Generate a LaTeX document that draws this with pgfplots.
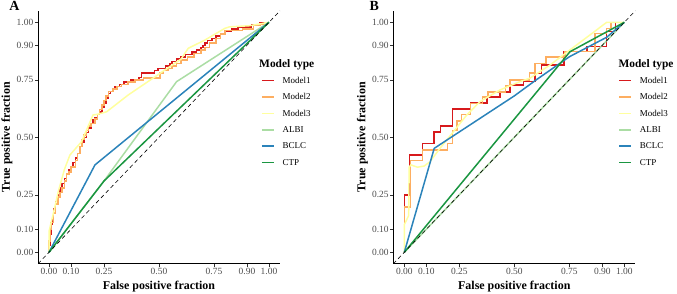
\documentclass[border=0pt]{standalone}
\usepackage{fontspec}
\setmainfont{Liberation Serif}
\usepackage{pgfplots}
\pgfplotsset{compat=1.18}
\definecolor{cMa}{HTML}{D7191C}
\definecolor{cMb}{HTML}{FDAE61}
\definecolor{cMc}{HTML}{FFFF9E}
\definecolor{cALBI}{HTML}{ABDDA4}
\definecolor{cBCLC}{HTML}{2B83BA}
\definecolor{cCTP}{HTML}{1A9641}
\definecolor{tickgray}{HTML}{4D4D4D}
\pgfplotsset{
 rocax/.style={
  scale only axis, width=242bp, height=253bp,
  xmin=-0.05,xmax=1.05,ymin=-0.05,ymax=1.05,
  axis lines=left, axis line style={-, line width=0.8bp, black},
  xtick={0,0.1,0.25,0.5,0.75,0.9,1}, xticklabels={0.00,0.10,0.25,0.50,0.75,0.90,1.00},
  ytick={0,0.1,0.25,0.5,0.75,0.9,1}, yticklabels={0.00,0.10,0.25,0.50,0.75,0.90,1.00},
  tick align=outside, major tick length=3bp, tick style={line width=0.5bp, color=black!80},
  ticklabel style={font=\fontsize{9.5}{11}\selectfont, text=tickgray},
  xticklabel style={inner sep=1.5bp},
  yticklabel style={inner sep=1.5bp},
  xlabel={False positive fraction}, ylabel={True positive fraction},
  label style={font=\fontsize{12}{14}\selectfont\bfseries},
  xlabel style={at={(axis description cs:0.5,-0.0905)}, anchor=center},
  ylabel style={at={(axis description cs:-0.128,0.5)}, anchor=center},
  every axis plot/.append style={line width=1.5bp},
  legend image code/.code={\draw[##1, line width=1.6bp] (0bp,2.6bp) -- (12.3bp,2.6bp);},
  legend cell align=left,
  legend style={draw=none, fill=none, inner sep=0pt, outer sep=0pt, row sep=10.2bp,
    font=\fontsize{9}{10}\selectfont, anchor=north west,
    /tikz/every odd column/.append style={column sep=7.7bp},
    nodes={inner sep=0pt, text height=6.2bp, text depth=0bp, anchor=base west}},
 }
}
\begin{document}
\begin{tikzpicture}
\path[use as bounding box] (0,0) rectangle (677bp,294bp);
% ---------------- Panel A ----------------
\begin{axis}[rocax, at={(38bp,30.2bp)}, anchor=south west,
  legend style={at={(axis description cs:0.9215,0.738)}}]
\addplot[cMa] coordinates {(0,0)(0,0.03)(0.005,0.03)(0.005,0.08)(0.01,0.08)(0.01,0.12)(0.015,0.12)(0.015,0.16)(0.02,0.16)(0.02,0.19)(0.03,0.19)(0.03,0.22)(0.04,0.22)(0.04,0.25)(0.05,0.25)(0.05,0.28)(0.06,0.28)(0.06,0.30)(0.07,0.30)(0.07,0.32)(0.08,0.32)(0.08,0.34)(0.09,0.34)(0.09,0.36)(0.10,0.36)(0.10,0.37)(0.11,0.37)(0.11,0.39)(0.12,0.39)(0.12,0.41)(0.13,0.41)(0.13,0.43)(0.14,0.43)(0.14,0.46)(0.15,0.46)(0.15,0.48)(0.16,0.48)(0.16,0.50)(0.17,0.50)(0.17,0.52)(0.18,0.52)(0.18,0.54)(0.19,0.54)(0.19,0.56)(0.20,0.56)(0.20,0.575)(0.21,0.575)(0.21,0.585)(0.22,0.585)(0.22,0.60)(0.23,0.60)(0.23,0.61)(0.24,0.61)(0.24,0.63)(0.25,0.63)(0.25,0.65)(0.26,0.65)(0.26,0.67)(0.27,0.67)(0.27,0.69)(0.28,0.69)(0.28,0.70)(0.29,0.70)(0.29,0.71)(0.30,0.71)(0.30,0.72)(0.32,0.72)(0.32,0.73)(0.34,0.73)(0.34,0.74)(0.37,0.74)(0.37,0.75)(0.41,0.75)(0.41,0.76)(0.42,0.76)(0.42,0.78)(0.48,0.78)(0.48,0.79)(0.495,0.79)(0.495,0.80)(0.53,0.80)(0.53,0.81)(0.55,0.81)(0.55,0.82)(0.56,0.82)(0.56,0.83)(0.58,0.83)(0.58,0.84)(0.60,0.84)(0.60,0.85)(0.62,0.85)(0.62,0.86)(0.65,0.86)(0.65,0.87)(0.67,0.87)(0.67,0.88)(0.69,0.88)(0.69,0.89)(0.70,0.89)(0.70,0.90)(0.71,0.90)(0.71,0.91)(0.72,0.91)(0.72,0.92)(0.74,0.92)(0.74,0.93)(0.76,0.93)(0.76,0.94)(0.78,0.94)(0.78,0.95)(0.80,0.95)(0.80,0.96)(0.83,0.96)(0.83,0.97)(0.86,0.97)(0.86,0.98)(0.92,0.98)(0.92,0.99)(0.96,0.99)(0.96,1.0)(1,1)};
\addlegendentry{Model1}
\addplot[cMb] coordinates {(0,0)(0,0.05)(0.005,0.05)(0.005,0.10)(0.01,0.10)(0.01,0.13)(0.02,0.13)(0.02,0.17)(0.03,0.17)(0.03,0.21)(0.04,0.21)(0.04,0.24)(0.05,0.24)(0.05,0.26)(0.06,0.26)(0.06,0.28)(0.07,0.28)(0.07,0.31)(0.08,0.31)(0.08,0.34)(0.09,0.34)(0.09,0.35)(0.10,0.35)(0.10,0.37)(0.12,0.37)(0.12,0.40)(0.13,0.40)(0.13,0.43)(0.14,0.43)(0.14,0.46)(0.15,0.46)(0.15,0.49)(0.16,0.49)(0.16,0.51)(0.17,0.51)(0.17,0.53)(0.18,0.53)(0.18,0.55)(0.19,0.55)(0.19,0.56)(0.21,0.56)(0.21,0.58)(0.22,0.58)(0.22,0.60)(0.23,0.60)(0.23,0.62)(0.24,0.62)(0.24,0.64)(0.25,0.64)(0.25,0.66)(0.26,0.66)(0.26,0.68)(0.27,0.68)(0.27,0.70)(0.29,0.70)(0.29,0.71)(0.31,0.71)(0.31,0.72)(0.33,0.72)(0.33,0.73)(0.36,0.73)(0.36,0.74)(0.39,0.74)(0.39,0.75)(0.43,0.75)(0.43,0.757)(0.505,0.757)(0.505,0.78)(0.52,0.78)(0.52,0.79)(0.54,0.79)(0.54,0.80)(0.56,0.80)(0.56,0.81)(0.58,0.81)(0.58,0.82)(0.60,0.82)(0.60,0.835)(0.63,0.835)(0.63,0.85)(0.66,0.85)(0.66,0.865)(0.69,0.865)(0.69,0.88)(0.71,0.88)(0.71,0.89)(0.73,0.89)(0.73,0.91)(0.76,0.91)(0.76,0.93)(0.78,0.93)(0.78,0.95)(0.80,0.95)(0.80,0.965)(0.88,0.965)(0.88,0.97)(0.93,0.97)(0.93,0.985)(0.96,0.985)(0.96,0.99)(0.98,0.99)(0.98,1)(1,1)};
\addlegendentry{Model2}
\addplot[cMc] coordinates {(0,0)(0,0.09)(0.02,0.17)(0.042,0.263)(0.07,0.36)(0.095,0.423)(0.148,0.481)(0.2,0.597)(0.22,0.60)(0.262,0.611)(0.36,0.684)(0.482,0.763)(0.527,0.793)(0.6,0.84)(0.633,0.887)(0.709,0.923)(0.8,0.974)(0.82,0.98)(0.91,0.985)(1,1)};
\addlegendentry{Model3}
\addplot[cALBI] coordinates {(0,0)(0.25,0.31)(0.58,0.742)(1,1)};
\addlegendentry{ALBI}
\addplot[cBCLC] coordinates {(0,0)(0.209,0.38)(1,1)};
\addlegendentry{BCLC}
\addplot[cCTP] coordinates {(0,0)(0.25,0.31)(1,1)};
\addlegendentry{CTP}
\addplot[black, line width=0.6bp, dash pattern=on 4bp off 3bp, forget plot] coordinates {(-0.05,-0.05)(1.05,1.05)};
\end{axis}
% ---------------- Panel B ----------------
\begin{axis}[rocax, at={(393.3bp,30.2bp)}, anchor=south west,
  legend style={at={(axis description cs:0.93,0.738)}}]
\addplot[cMa] coordinates {(0,0)(0,0.25)(0.023,0.25)(0.023,0.423)(0.083,0.423)(0.083,0.474)(0.136,0.474)(0.136,0.524)(0.165,0.524)(0.165,0.55)(0.218,0.55)(0.218,0.623)(0.30,0.623)(0.30,0.65)(0.377,0.65)(0.377,0.675)(0.435,0.675)(0.435,0.698)(0.48,0.698)(0.48,0.727)(0.541,0.727)(0.541,0.742)(0.594,0.742)(0.594,0.778)(0.624,0.778)(0.624,0.814)(0.726,0.814)(0.726,0.872)(0.83,0.872)(0.83,0.894)(0.92,0.894)(0.92,0.96)(0.96,0.96)(0.96,1)(1,1)};
\addlegendentry{Model1}
\addplot[cMb] coordinates {(0,0)(0,0.198)(0.029,0.198)(0.029,0.40)(0.083,0.40)(0.083,0.445)(0.196,0.445)(0.196,0.474)(0.218,0.474)(0.218,0.53)(0.24,0.53)(0.24,0.57)(0.26,0.57)(0.26,0.60)(0.30,0.60)(0.30,0.648)(0.355,0.648)(0.355,0.675)(0.38,0.675)(0.38,0.698)(0.46,0.698)(0.46,0.724)(0.48,0.724)(0.48,0.749)(0.57,0.749)(0.57,0.78)(0.594,0.78)(0.594,0.82)(0.644,0.82)(0.644,0.85)(0.73,0.85)(0.73,0.872)(0.867,0.872)(0.867,0.952)(0.92,0.952)(0.92,0.974)(0.94,0.974)(0.94,1)(1,1)};
\addlegendentry{Model2}
\addplot[cMc] coordinates {(0,0)(0,0.12)(0.02,0.16)(0.022,0.37)(0.03,0.38)(0.06,0.37)(0.09,0.375)(0.117,0.394)(0.162,0.452)(0.223,0.524)(0.284,0.597)(0.344,0.655)(0.435,0.706)(0.526,0.742)(0.571,0.757)(0.662,0.814)(0.753,0.88)(0.844,0.945)(0.92,1.0)(1,1)};
\addlegendentry{Model3}
\addplot[cALBI] coordinates {(0,0)(1,1)};
\addlegendentry{ALBI}
\addplot[cBCLC] coordinates {(0,0)(0.136,0.452)(0.5,0.68)(0.6,0.75)(0.75,0.85)(0.92,0.935)(1,1)};
\addlegendentry{BCLC}
\addplot[cCTP] coordinates {(0,0)(0.753,0.872)(1,1)};
\addlegendentry{CTP}
\addplot[black, line width=0.6bp, dash pattern=on 4bp off 3bp, forget plot] coordinates {(-0.05,-0.05)(1.05,1.05)};
\end{axis}
% titles
\node[anchor=west, inner sep=0pt, font=\fontsize{11.5}{13}\selectfont\bfseries] at (259bp,229bp) {Model type};
\node[anchor=west, inner sep=0pt, font=\fontsize{11.5}{13}\selectfont\bfseries] at (618.3bp,229bp) {Model type};
\node[anchor=base west, inner sep=0pt, font=\fontsize{14}{16}\selectfont\bfseries] at (9.3bp,283.3bp) {A};
\node[anchor=base west, inner sep=0pt, font=\fontsize{14}{16}\selectfont\bfseries] at (369.3bp,283.3bp) {B};
\end{tikzpicture}
\end{document}
